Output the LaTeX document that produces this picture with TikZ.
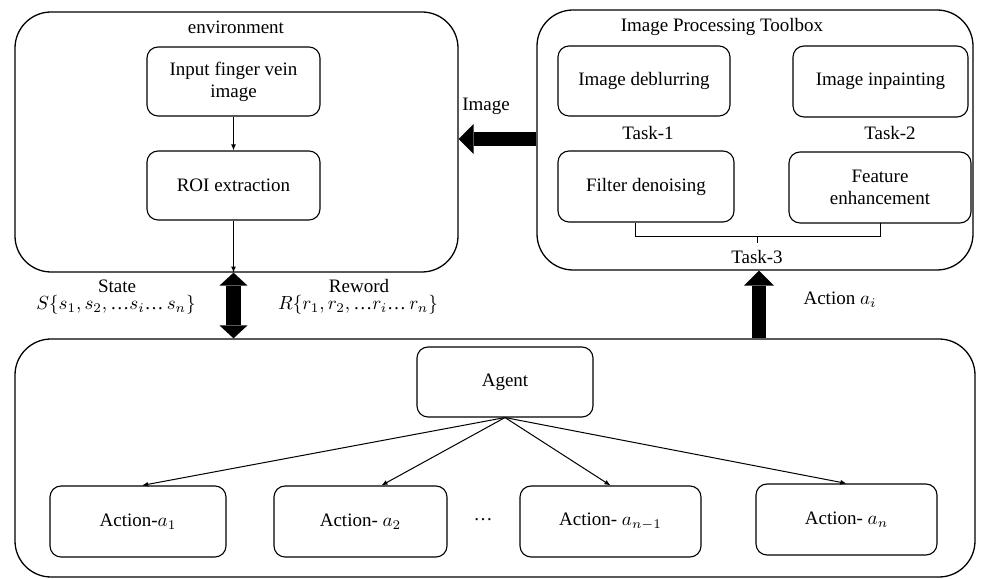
\documentclass[tikz,border=0pt]{standalone}
\usepackage{fontspec}
\setmainfont{Liberation Serif}
\usetikzlibrary{arrows.meta,calc}
\begin{document}
\begin{tikzpicture}[x=0.5263pt,y=-0.5263pt,
  every node/.style={font=\fontsize{10}{11.6}\selectfont},
  wh/.style 2 args={minimum width=#1*0.5263pt, minimum height=#2*0.5263pt},
  box/.style={draw, line width=0.58pt, rounded corners=5.8pt, inner sep=0pt, align=center},
  outer/.style={draw, line width=0.68pt, rounded corners=19pt, inner sep=0pt},
  thinarrow/.style={line width=0.53pt, -{Latex[length=3.2pt,width=2.6pt]}},
  fatarrow/.style={line width=7.4pt, -{Triangle[length=7.9pt,width=15.8pt,line width=0pt]}},
  fatdouble/.style={line width=7.4pt, {Triangle[length=6.8pt,width=14.7pt,line width=0pt]}-{Triangle[length=6.8pt,width=14.7pt,line width=0pt]}},
]
\useasboundingbox (0,0) rectangle (981,579);

% environment
\node[outer, wh={443}{260}] (env) at (236.5,142) {};
\node (envl) at (236,27) {environment};
\node[box, wh={173}{69}] (inp) at (233.5,81.5) {Input finger vein\\image};
\node[box, wh={173}{69}] (roi) at (233.5,185.5) {ROI extraction};
\draw[thinarrow] (inp.south) -- (roi.north);
\draw[thinarrow] (roi.south) -- (roi.south |- env.south);

% toolbox
\node[outer, wh={436}{260}] (tb) at (755,140) {};
\node (tbl) at (722,27) {Image Processing Toolbox};
\node[box, wh={172}{70}] (deb) at (644,81) {Image deblurring};
\node[box, wh={175}{71}] (inpaint) at (880.5,81.5) {Image inpainting};
\node (t1) at (648,133) {Task-1};
\node (t2) at (890,133) {Task-2};
\node[box, wh={176}{71}] (fil) at (646,186.5) {Filter denoising};
\node[box, wh={182}{71}] (feat) at (880,187.5) {Feature\\enhancement};
\draw[line width=0.53pt] (635,223) -- (635,237) -- (880,237) -- (880,223);
\draw[line width=0.53pt] (757.5,237) -- (757.5,243);
\node (t3) at (757,257) {Task-3};

% image arrow
\coordinate (iy) at (500,139);
\draw[fatarrow] (tb.west |- iy) -- (env.east |- iy);
\node (imgl) at (486,106) {Image};

% bottom
\node[outer, wh={960}{238}] (bot) at (495,458) {};
\draw[fatdouble] (roi.south |- env.south) -- (roi.south |- bot.north);
\node (st) at (117,286) {State};
\node (stf) at (116,305) {$S\{s_1,s_2,$\,…$s_i$…\,$s_n\}$};
\node (rw) at (359,286) {Reword};
\node (rwf) at (358,305) {$R\{r_1,r_2,$\,…$r_i$…\,$r_n\}$};

\coordinate (ax) at (759,300);
\draw[fatarrow] (bot.north -| ax) -- (tb.south -| ax);
\node (actl) at (840,300) {Action $a_i$};

\node[box, wh={176}{70}] (agent) at (505,382) {Agent};
\node[box, wh={176}{71}] (a1) at (138,521.5) {Action-$a_1$};
\node[box, wh={173}{71}] (a2) at (360.5,521.5) {Action- $a_2$};
\node[box, wh={181}{71}] (an1) at (610.5,521.5) {Action- $a_{n-1}$};
\node[box, wh={181}{71}] (an) at (846.5,519.5) {Action- $a_n$};
\node (dots) at (483,520) {…};

\draw[thinarrow] (agent.south) -- ([xshift=2.1pt]a1.north);
\draw[thinarrow] (agent.south) -- ([xshift=11pt]a2.north);
\draw[thinarrow] (agent.south) -- (an1.north);
\draw[thinarrow] (agent.south) -- (an.north);
\end{tikzpicture}
\end{document}
